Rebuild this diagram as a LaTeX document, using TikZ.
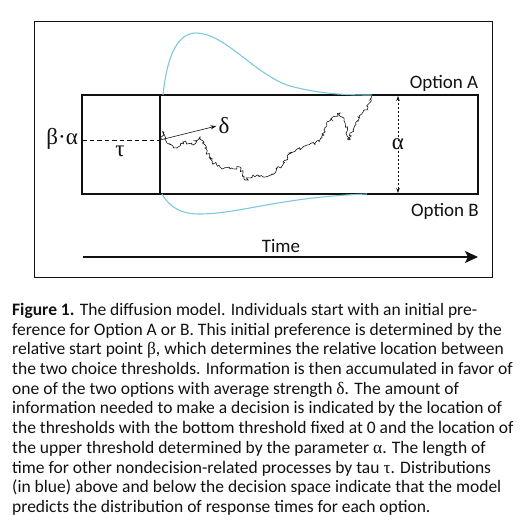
\documentclass[tikz,border=0pt]{standalone}
\usepackage{fontspec}
\setmainfont{Carlito}
\newfontfamily\greekfont{Liberation Serif}
\usetikzlibrary{arrows.meta,calc,positioning,decorations.pathmorphing}
\definecolor{ModelInk}{HTML}{111111}
\definecolor{ModelBlue}{HTML}{7CC8DC}
\tikzset{
  every node/.style={text=ModelInk},
  frame/.style={draw=ModelInk, line width=0.8pt},
  bound/.style={draw=ModelInk, line width=1.2pt},
  density/.style={draw=ModelBlue, line width=1.1pt},
  startline/.style={draw=ModelInk, line width=1pt, dash pattern=on 4.5pt off 3pt},
  walk/.style={draw=ModelInk, line width=0.6pt, decorate,
    decoration={random steps, segment length=1.8pt, amplitude=1.8pt}},
  drift/.style={-{Stealth[length=6pt,width=4pt]}, draw=ModelInk, line width=0.6pt},
  span/.style={-{Stealth[length=5pt,width=3.5pt]}, draw=ModelInk, line width=0.6pt, dash pattern=on 2pt off 2pt},
  timeaxis/.style={-{Stealth[length=13pt,width=12pt,inset=3pt]}, draw=ModelInk, line width=1.2pt},
  greek/.style={font=\greekfont\fontsize{23}{23}\selectfont, inner sep=0pt},
  optlabel/.style={font=\fontsize{19}{19}\selectfont, inner sep=0pt},
}

\begin{document}
\begin{tikzpicture}[x=1pt, y=-1pt]
  \useasboundingbox (0,0) rectangle (520,528);
  % Outer frame and decision space
  \draw[frame] (34,21) rectangle (492,277);
  \coordinate (boxNW) at (82,95);
  \coordinate (boxSE) at (478,194);
  \coordinate (tauTop) at (160,95);
  \coordinate (tauBot) at (160,194);
  \coordinate (startLeft) at (82,140);
  \coordinate (startPt) at (160,140);
  \draw[bound] (boxNW) rectangle (boxSE);
  \draw[bound] (tauTop) -- (tauBot);
  % Response time distributions
  \draw[density] (163,95) .. controls (167,55) and (178,33) .. (196,33)
    .. controls (225,33) and (255,75) .. (290,86)
    .. controls (320,94) and (345,95) .. (372,95);
  \draw[density] (162,194) .. controls (170,208) and (182,214) .. (199,214)
    .. controls (240,214) and (280,197) .. (367,194);
  % Starting point and non-decision time
  \node[greek, anchor=east] (startLbl) at (78,139) {β·α};
  \node[greek] (tauLbl) at (120,151) {τ};
  \draw[startline] (startLeft) -- (startPt);
  % Accumulation path
  \pgfmathsetseed{4121}
  \draw[walk] (160,140) -- (164,132) -- (167,143) -- (177,148) -- (183,142)
    -- (193,145) -- (200,137) -- (205,148) -- (212,162) -- (220,167)
    -- (230,169) -- (240,167) -- (245,180) -- (253,175) -- (263,177)
    -- (275,173) -- (283,162) -- (293,152) -- (307,145) -- (315,143)
    -- (322,138) -- (327,122) -- (332,120) -- (340,113) -- (345,123)
    -- (349,140) -- (353,130) -- (358,117) -- (363,112) -- (368,107)
    -- (372,95);
  % Drift rate
  \node[greek] (deltaLbl) at (224,126) {δ};
  \draw[drift] (startPt) -- ([xshift=-2pt]deltaLbl.west);
  % Boundary separation
  \node[greek] (alphaLbl) at (398,144) {α};
  \coordinate (alphaTop) at (398,96);
  \coordinate (alphaBot) at (398,193);
  \draw[span] ([yshift=-3pt]alphaLbl.north) -- (alphaTop);
  \draw[span] ([yshift=3pt]alphaLbl.south) -- (alphaBot);
  % Options and time
  \node[optlabel] (optA) at (444,83) {Option A};
  \node[optlabel] (optB) at (445,211) {Option B};
  \node[optlabel] (timeLbl) at (281,246) {Time};
  \coordinate (timeStart) at (83,257);
  \coordinate (timeEnd) at (478,257);
  \draw[timeaxis] (timeStart) -- (timeEnd);
  % Caption
  \node[anchor=north west, inner sep=0pt, align=left,
    font=\fontsize{17.5}{19.7}\selectfont] (caption) at (12,303) {%
    \textbf{Figure 1.} The diffusion model. Individuals start with an initial pre-\\
    ference for Option A or B. This initial preference is determined by the\\
    relative start point {\greekfont β}, which determines the relative location between\\
    the two choice thresholds. Information is then accumulated in favor of\\
    one of the two options with average strength {\greekfont δ}. The amount of\\
    information needed to make a decision is indicated by the location of\\
    the thresholds with the bottom threshold fixed at 0 and the location of\\
    the upper threshold determined by the parameter {\greekfont α}. The length of\\
    time for other nondecision-related processes by tau {\greekfont τ}. Distributions\\
    (in blue) above and below the decision space indicate that the model\\
    predicts the distribution of response times for each option.};
\end{tikzpicture}
\end{document}
